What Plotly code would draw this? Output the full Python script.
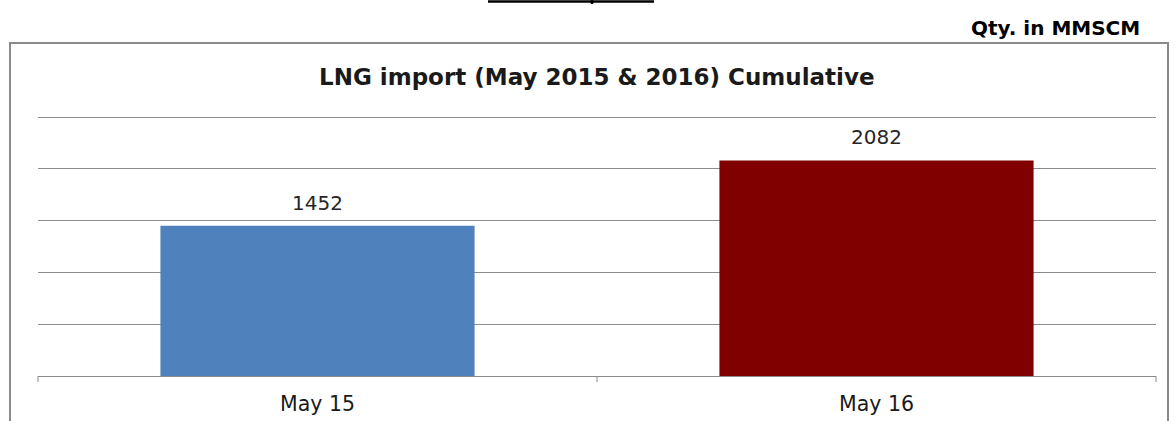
import plotly.graph_objects as go

categories = ["May 15", "May 16"]
values = [1452, 2082]
bar_colors = ["#4F81BD", "#800000"]
y_ticks = [0, 500, 1000, 1500, 2000, 2500]

W, H = 1176, 421
Y_MAX = 2550
BASE_Y = 376
PX_PER_UNIT = (376 - 117.3) / 2500
L, R, B = 38, 20, H - BASE_Y
T = round(BASE_Y - Y_MAX * PX_PER_UNIT)
PW, PH = W - L - R, H - T - B

def px(x):
    return (x - L) / PW

def py(y):
    return (H - B - y) / PH

FONT = "DejaVu Sans, Liberation Sans"

fig = go.Figure()
fig.add_trace(go.Bar(
    x=categories, y=values,
    marker=dict(color=bar_colors, line=dict(width=0)),
    width=0.562,
    hoverinfo="x+y",
))

for c, v in zip(categories, values):
    fig.add_annotation(x=c, y=v, text=str(v), showarrow=False,
                       xanchor="center", yanchor="bottom", yshift=9,
                       font=dict(family=FONT, size=20, color="#262626"))

fig.update_layout(
    width=W, height=H,
    margin=dict(l=L, r=R, t=T, b=B, autoexpand=False),
    paper_bgcolor="white", plot_bgcolor="white",
    showlegend=False,
    xaxis=dict(
        showgrid=False, showline=True, linecolor="#8c8c8c", linewidth=1,
        ticks="", tickfont=dict(family=FONT, size=20.5, color="#1a1a1a"),
        ticklabelstandoff=9, automargin=False,
    ),
    yaxis=dict(
        range=[0, Y_MAX], tickvals=y_ticks, showticklabels=False,
        showgrid=True, gridcolor="#8c8c8c", gridwidth=1, zeroline=False,
        showline=False, automargin=False,
    ),
    font=dict(family=FONT, color="#1a1a1a"),
)

# outer chart box
fig.add_shape(type="rect", xref="paper", yref="paper",
              x0=px(10), x1=px(1168), y0=py(430), y1=py(43),
              line=dict(color="#8a8a8a", width=2), fillcolor="rgba(0,0,0,0)", layer="below")

# axis tick marks at category boundaries
for xb in [38, 597, 1156]:
    fig.add_shape(type="line", xref="paper", yref="paper",
                  x0=px(xb), x1=px(xb), y0=py(376), y1=py(382),
                  line=dict(color="#8c8c8c", width=1))

# cut-off underline at top
fig.add_shape(type="line", xref="paper", yref="paper",
              x0=px(488), x1=px(654), y0=py(1.5), y1=py(1.5),
              line=dict(color="black", width=2.5))
fig.add_shape(type="line", xref="paper", yref="paper",
              x0=px(592), x1=px(592), y0=py(0), y1=py(4),
              line=dict(color="black", width=2.5))

fig.add_annotation(text="<b>LNG import (May 2015 & 2016) Cumulative</b>",
                   xref="paper", yref="paper", x=px(597), y=py(77),
                   showarrow=False, xanchor="center", yanchor="middle",
                   font=dict(family=FONT, size=23, color="#1a1a1a"))

fig.add_annotation(text="<b>Qty. in MMSCM</b>",
                   xref="paper", yref="paper", x=px(1142), y=py(28),
                   showarrow=False, xanchor="right", yanchor="middle",
                   font=dict(family=FONT, size=20, color="black"))

fig.write_html("out.html", config={"displayModeBar": False},
               post_script="document.body.style.margin='0';document.body.style.padding='0';")
